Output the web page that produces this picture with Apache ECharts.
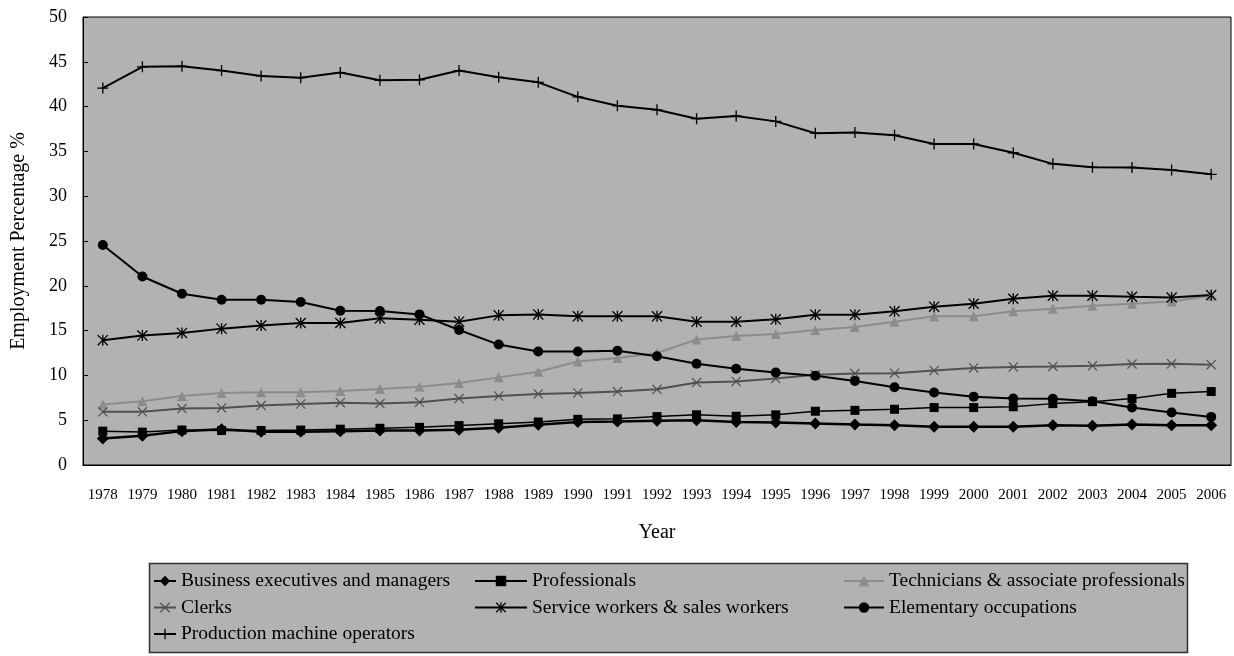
<!DOCTYPE html>
<html>
<head>
<meta charset="utf-8">
<script src="https://cdn.jsdelivr.net/npm/echarts@6/dist/echarts.min.js"></script>
<style>
html,body{margin:0;padding:0;background:#fff;}
#c{width:1234px;height:656px;}
</style>
</head>
<body>
<div id="c"></div>
<script>
const years = ['1978','1979','1980','1981','1982','1983','1984','1985','1986','1987','1988','1989','1990','1991','1992','1993','1994','1995','1996','1997','1998','1999','2000','2001','2002','2003','2004','2005','2006'];
const yTicks = [0,5,10,15,20,25,30,35,40,45,50];
const business = [2.96,3.26,3.78,4.0,3.7,3.7,3.78,3.85,3.85,3.93,4.15,4.5,4.81,4.85,4.95,5.0,4.81,4.74,4.63,4.52,4.44,4.26,4.26,4.26,4.44,4.37,4.52,4.44,4.44];
const professionals = [3.78,3.67,3.9,3.85,3.85,3.9,4.0,4.1,4.2,4.4,4.6,4.8,5.1,5.15,5.4,5.6,5.44,5.6,6.0,6.1,6.22,6.41,6.41,6.5,6.85,7.07,7.41,8.0,8.2];
const technicians = [6.74,7.11,7.7,8.04,8.11,8.11,8.26,8.48,8.74,9.15,9.78,10.4,11.55,11.95,12.5,14.0,14.41,14.63,15.07,15.41,16.0,16.59,16.59,17.15,17.44,17.78,18.0,18.26,18.9];
const clerks = [5.93,5.93,6.3,6.37,6.63,6.81,6.96,6.85,7.0,7.41,7.7,7.93,8.04,8.2,8.45,9.2,9.33,9.65,10.08,10.2,10.25,10.56,10.83,10.95,11.0,11.07,11.26,11.3,11.2];
const service = [13.93,14.44,14.74,15.22,15.56,15.85,15.85,16.37,16.22,16.0,16.7,16.81,16.59,16.59,16.59,16.0,16.0,16.26,16.78,16.78,17.15,17.67,18.0,18.56,18.89,18.89,18.78,18.7,18.96];
const elementary = [24.55,21.04,19.11,18.44,18.44,18.19,17.22,17.19,16.81,15.07,13.44,12.67,12.67,12.76,12.13,11.3,10.74,10.33,9.96,9.37,8.68,8.1,7.63,7.41,7.39,7.11,6.41,5.85,5.37];
const production = [42.07,44.44,44.51,44.02,43.42,43.23,43.8,42.93,43.0,44.02,43.27,42.71,41.09,40.1,39.64,38.65,38.95,38.35,37.03,37.11,36.8,35.83,35.83,34.85,33.61,33.23,33.2,32.93,32.44];

const names = ['Business executives and managers','Professionals','Technicians & associate professionals','Clerks','Service workers & sales workers','Elementary occupations','Production machine operators'];

const PLUS = 'path://M4.4,0H5.6V4.4H10V5.6H5.6V10H4.4V5.6H0V4.4H4.4Z';
const XMARK = 'path://M0,0.85L0.85,0L10,9.15L9.15,10ZM9.15,0L10,0.85L0.85,10L0,9.15Z';
const STAR = 'path://M4.4,0H5.6V10H4.4ZM0,0.85L0.85,0L10,9.15L9.15,10ZM9.15,0L10,0.85L0.85,10L0,9.15Z';

function mk(name, data, symbol, size, color, lw) {
  return {
    name: name, type: 'line', data: data,
    symbol: symbol, symbolSize: size, showSymbol: true,
    lineStyle: {color: color, width: lw},
    itemStyle: {color: color, borderWidth: 0},
    emphasis: {disabled: true},
    animation: false
  };
}

const FONT = '"Liberation Serif", "Times New Roman", serif';
const chart = echarts.init(document.getElementById('c'));
const legendText = {fontFamily: FONT, fontSize: 19.5, color: '#000', lineHeight: 20};
const legBase = {orient: 'vertical', top: 566, itemGap: 6.5, itemHeight: 13, textStyle: legendText, selectedMode: false, itemStyle: {borderWidth: 0}};
chart.setOption({
  backgroundColor: '#ffffff',
  animation: false,
  grid: {left: 83, top: 17, width: 1148, height: 448, show: true, backgroundColor: '#b2b2b2', borderColor: '#000', borderWidth: 1, containLabel: false},
  graphic: [{type: 'rect', shape: {x: 149.5, y: 563.5, width: 1038, height: 89}, style: {fill: '#b2b2b2', stroke: '#333', lineWidth: 1.5}, z: -1}],
  legend: [
    Object.assign({}, legBase, {left: 148, itemWidth: 22, data: [names[0], names[3], names[6]]}),
    Object.assign({}, legBase, {left: 469, itemWidth: 52, data: [names[1], names[4]]}),
    Object.assign({}, legBase, {left: 838, itemWidth: 40, data: [names[2], names[5]]})
  ],
  xAxis: {
    type: 'category', data: years, boundaryGap: true,
    name: 'Year', nameLocation: 'middle', nameGap: 58,
    nameTextStyle: {fontFamily: FONT, fontSize: 20, color: '#000'},
    axisLine: {lineStyle: {color: '#000', width: 1}},
    axisTick: {inside: true, length: 5, interval: 0, lineStyle: {color: '#000'}},
    axisLabel: {interval: 0, fontFamily: FONT, fontSize: 15, color: '#000', margin: 23},
    splitLine: {show: false}
  },
  yAxis: {
    type: 'value', min: yTicks[0], max: yTicks[yTicks.length - 1], interval: 5,
    name: 'Employment Percentage %', nameLocation: 'middle', nameGap: 54, nameRotate: 90,
    nameTextStyle: {fontFamily: FONT, fontSize: 20, color: '#000'},
    axisLine: {show: true, lineStyle: {color: '#000', width: 1}},
    axisTick: {show: true, inside: true, length: 5, lineStyle: {color: '#000'}},
    axisLabel: {fontFamily: FONT, fontSize: 18, color: '#000', margin: 16},
    splitLine: {show: false}
  },
  series: [
    mk(names[0], business, 'diamond', 12, '#000', 2.5),
    mk(names[1], professionals, 'rect', 9, '#000', 1.5),
    mk(names[2], technicians, 'triangle', 10, '#8c8c8c', 2),
    mk(names[3], clerks, XMARK, 10, '#505050', 2),
    mk(names[4], service, STAR, 11, '#000', 2),
    mk(names[5], elementary, 'circle', 10, '#000', 2),
    mk(names[6], production, PLUS, 11, '#000', 2)
  ]
});
</script>
</body>
</html>
